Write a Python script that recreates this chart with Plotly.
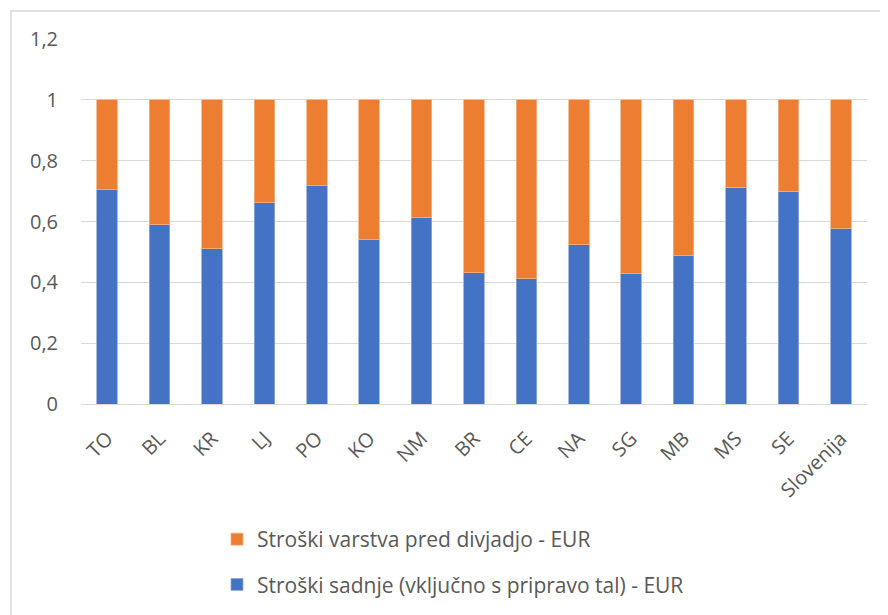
import plotly.graph_objects as go

categories = ["TO", "BL", "KR", "LJ", "PO", "KO", "NM", "BR", "CE", "NA", "SG", "MB", "MS", "SE", "Slovenija"]
sadnje = [0.704, 0.589, 0.511, 0.662, 0.717, 0.542, 0.613, 0.432, 0.412, 0.523, 0.429, 0.489, 0.712, 0.700, 0.578]
varstva = [round(1 - v, 3) for v in sadnje]
y_ticks = [0, 0.2, 0.4, 0.6, 0.8, 1, 1.2]
y_ticklabels = ["0", "0,2", "0,4", "0,6", "0,8", "1", "1,2"]

FONT = "Open Sans"
GREY = "#595959"
OFF = 8  # page body margin

fig = go.Figure()
fig.add_trace(go.Bar(
    x=categories, y=sadnje, name="Stroški sadnje (vključno s pripravo tal) - EUR",
    marker=dict(color="#4472C4", line=dict(color="#8FAADC", width=0.8)),
    legendgroup="a", legendrank=2,
))
fig.add_trace(go.Bar(
    x=categories, y=varstva, name="Stroški varstva pred divjadjo - EUR",
    marker=dict(color="#ED7D31", line=dict(color="#F4B183", width=0.8)),
    legendgroup="b", legendrank=1,
))

W, H = 888, 615
L, R, T, B = 81 - OFF, 888 - 867 + OFF, 39 - OFF, 615 - 404 + OFF
pw, ph = W - L - R, H - T - B

def px_x(p):
    return (p - OFF - L) / pw

def px_y(p):
    return (H - B - (p - OFF)) / ph

fig.update_layout(
    width=W, height=H,
    barmode="stack",
    bargap=0.61,
    margin=dict(l=L, r=R, t=T, b=B, pad=0),
    paper_bgcolor="white",
    plot_bgcolor="white",
    font=dict(family=FONT, color=GREY, size=20),
    xaxis=dict(
        tickangle=-45, tickfont=dict(size=20, color=GREY),
        showgrid=False, showline=True, linecolor="#d9d9d9", linewidth=1,
        ticks="", ticklen=0, ticklabelstandoff=14,
    ),
    yaxis=dict(
        range=[0, 1.2], tickvals=y_ticks, ticktext=y_ticklabels,
        showgrid=True, gridcolor="#d9d9d9", gridwidth=1,
        zeroline=False, showline=False,
        tickfont=dict(size=20, color=GREY), ticks="", ticklabelstandoff=22,
    ),
    legend=dict(
        orientation="v", traceorder="grouped", tracegroupgap=15,
        x=px_x(217), xanchor="left", y=px_y(519), yanchor="top",
        font=dict(size=21, color=GREY), bgcolor="rgba(0,0,0,0)",
    ),
    shapes=[dict(
        type="rect", xref="paper", yref="paper",
        x0=px_x(11), x1=px_x(W + 30), y0=px_y(11), y1=px_y(H + 30),
        line=dict(color="#d9d9d9", width=1.5), fillcolor="rgba(0,0,0,0)", layer="below",
    )],
)

fig.write_html("out.html")
